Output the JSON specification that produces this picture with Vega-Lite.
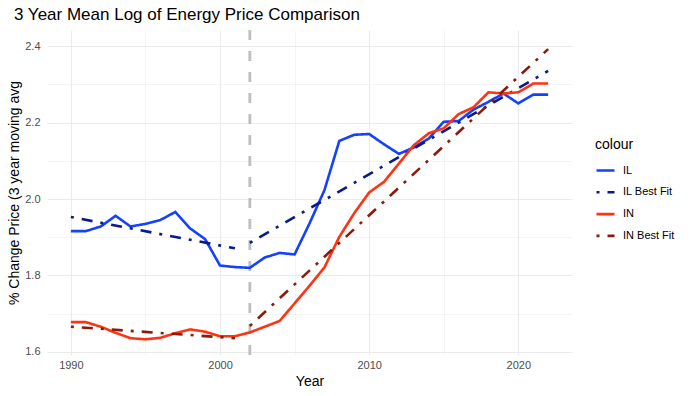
{
  "$schema": "https://vega.github.io/schema/vega-lite/v6.json",
  "autosize": {"type": "none"},
  "width": 525,
  "height": 325,
  "padding": {"left": 47, "top": 30, "right": 120, "bottom": 41},
  "background": "white",
  "config": {
    "font": "Liberation Sans",
    "view": {"stroke": null},
    "axis": {"domain": false, "ticks": false, "gridColor": "#EBEBEB", "labelColor": "#4D4D4D", "labelFontSize": 11, "titleFontSize": 14, "titleFontWeight": "normal", "titleColor": "#000000"}
  },
  "title": {"text": "3 Year Mean Log of Energy Price Comparison", "anchor": "start", "frame": "group", "dx": -33, "offset": 5, "fontSize": 17, "fontWeight": "normal", "color": "#000000"},
  "layer": [
    {
      "data": {"values": [{"year": 2002}]},
      "mark": {"type": "rule", "color": "#BEBEBE", "strokeWidth": 2.8, "strokeDash": [10, 11]},
      "encoding": {"x": {"field": "year", "type": "quantitative", "scale": {"domain": [1988.4, 2023.6], "nice": false, "zero": false}}}
    },
    {
      "data": {"values": [
        {"year": 1990, "value": 1.916, "series": "IL", "seg": "all"},
        {"year": 1991, "value": 1.916, "series": "IL", "seg": "all"},
        {"year": 1992, "value": 1.928, "series": "IL", "seg": "all"},
        {"year": 1993, "value": 1.956, "series": "IL", "seg": "all"},
        {"year": 1994, "value": 1.928, "series": "IL", "seg": "all"},
        {"year": 1995, "value": 1.935, "series": "IL", "seg": "all"},
        {"year": 1996, "value": 1.945, "series": "IL", "seg": "all"},
        {"year": 1997, "value": 1.966, "series": "IL", "seg": "all"},
        {"year": 1998, "value": 1.923, "series": "IL", "seg": "all"},
        {"year": 1999, "value": 1.895, "series": "IL", "seg": "all"},
        {"year": 2000, "value": 1.826, "series": "IL", "seg": "all"},
        {"year": 2001, "value": 1.822, "series": "IL", "seg": "all"},
        {"year": 2002, "value": 1.820, "series": "IL", "seg": "all"},
        {"year": 2003, "value": 1.847, "series": "IL", "seg": "all"},
        {"year": 2004, "value": 1.859, "series": "IL", "seg": "all"},
        {"year": 2005, "value": 1.855, "series": "IL", "seg": "all"},
        {"year": 2006, "value": 1.936, "series": "IL", "seg": "all"},
        {"year": 2007, "value": 2.023, "series": "IL", "seg": "all"},
        {"year": 2008, "value": 2.152, "series": "IL", "seg": "all"},
        {"year": 2009, "value": 2.168, "series": "IL", "seg": "all"},
        {"year": 2010, "value": 2.170, "series": "IL", "seg": "all"},
        {"year": 2011, "value": 2.143, "series": "IL", "seg": "all"},
        {"year": 2012, "value": 2.118, "series": "IL", "seg": "all"},
        {"year": 2013, "value": 2.135, "series": "IL", "seg": "all"},
        {"year": 2014, "value": 2.158, "series": "IL", "seg": "all"},
        {"year": 2015, "value": 2.202, "series": "IL", "seg": "all"},
        {"year": 2016, "value": 2.204, "series": "IL", "seg": "all"},
        {"year": 2017, "value": 2.234, "series": "IL", "seg": "all"},
        {"year": 2018, "value": 2.254, "series": "IL", "seg": "all"},
        {"year": 2019, "value": 2.276, "series": "IL", "seg": "all"},
        {"year": 2020, "value": 2.250, "series": "IL", "seg": "all"},
        {"year": 2021, "value": 2.273, "series": "IL", "seg": "all"},
        {"year": 2022, "value": 2.273, "series": "IL", "seg": "all"},
        {"year": 1990, "value": 1.953, "series": "IL Best Fit", "seg": "pre"},
        {"year": 2001, "value": 1.871, "series": "IL Best Fit", "seg": "pre"},
        {"year": 2002, "value": 1.885, "series": "IL Best Fit", "seg": "post"},
        {"year": 2022, "value": 2.335, "series": "IL Best Fit", "seg": "post"},
        {"year": 1990, "value": 1.678, "series": "IN", "seg": "all"},
        {"year": 1991, "value": 1.678, "series": "IN", "seg": "all"},
        {"year": 1992, "value": 1.666, "series": "IN", "seg": "all"},
        {"year": 1993, "value": 1.650, "series": "IN", "seg": "all"},
        {"year": 1994, "value": 1.636, "series": "IN", "seg": "all"},
        {"year": 1995, "value": 1.633, "series": "IN", "seg": "all"},
        {"year": 1996, "value": 1.637, "series": "IN", "seg": "all"},
        {"year": 1997, "value": 1.649, "series": "IN", "seg": "all"},
        {"year": 1998, "value": 1.659, "series": "IN", "seg": "all"},
        {"year": 1999, "value": 1.653, "series": "IN", "seg": "all"},
        {"year": 2000, "value": 1.641, "series": "IN", "seg": "all"},
        {"year": 2001, "value": 1.641, "series": "IN", "seg": "all"},
        {"year": 2002, "value": 1.651, "series": "IN", "seg": "all"},
        {"year": 2003, "value": 1.666, "series": "IN", "seg": "all"},
        {"year": 2004, "value": 1.681, "series": "IN", "seg": "all"},
        {"year": 2005, "value": 1.727, "series": "IN", "seg": "all"},
        {"year": 2006, "value": 1.773, "series": "IN", "seg": "all"},
        {"year": 2007, "value": 1.821, "series": "IN", "seg": "all"},
        {"year": 2008, "value": 1.901, "series": "IN", "seg": "all"},
        {"year": 2009, "value": 1.963, "series": "IN", "seg": "all"},
        {"year": 2010, "value": 2.017, "series": "IN", "seg": "all"},
        {"year": 2011, "value": 2.045, "series": "IN", "seg": "all"},
        {"year": 2012, "value": 2.093, "series": "IN", "seg": "all"},
        {"year": 2013, "value": 2.141, "series": "IN", "seg": "all"},
        {"year": 2014, "value": 2.172, "series": "IN", "seg": "all"},
        {"year": 2015, "value": 2.185, "series": "IN", "seg": "all"},
        {"year": 2016, "value": 2.222, "series": "IN", "seg": "all"},
        {"year": 2017, "value": 2.240, "series": "IN", "seg": "all"},
        {"year": 2018, "value": 2.279, "series": "IN", "seg": "all"},
        {"year": 2019, "value": 2.276, "series": "IN", "seg": "all"},
        {"year": 2020, "value": 2.279, "series": "IN", "seg": "all"},
        {"year": 2021, "value": 2.302, "series": "IN", "seg": "all"},
        {"year": 2022, "value": 2.302, "series": "IN", "seg": "all"},
        {"year": 1990, "value": 1.666, "series": "IN Best Fit", "seg": "pre"},
        {"year": 2001, "value": 1.636, "series": "IN Best Fit", "seg": "pre"},
        {"year": 2002, "value": 1.668, "series": "IN Best Fit", "seg": "post"},
        {"year": 2022, "value": 2.392, "series": "IN Best Fit", "seg": "post"}
      ]},
      "mark": {"type": "line", "strokeWidth": 2.6, "strokeCap": "butt"},
      "encoding": {
        "x": {"field": "year", "type": "quantitative", "title": "Year",
          "scale": {"domain": [1988.4, 2023.6], "nice": false, "zero": false},
          "axis": {"values": [1990, 1995, 2000, 2005, 2010, 2015, 2020], "labelExpr": "datum.value % 10 === 0 ? datum.label : ''", "format": "d", "labelPadding": 4, "titlePadding": 4,
            "gridWidth": {"condition": {"test": "datum.value % 10 !== 0", "value": 0.55}, "value": 1.1}}},
        "y": {"field": "value", "type": "quantitative", "title": "% Change Price (3 year moving avg",
          "scale": {"domain": [1.592, 2.442], "nice": false, "zero": false},
          "axis": {"values": [1.6, 1.7, 1.8, 1.9, 2.0, 2.1, 2.2, 2.3, 2.4], "labelExpr": "round(datum.value * 10) % 2 === 0 ? format(datum.value, '.1f') : ''", "labelPadding": 7, "titlePadding": 3,
            "gridWidth": {"condition": {"test": "round(datum.value * 10) % 2 === 1", "value": 0.55}, "value": 1.1}}},
        "color": {"field": "series", "type": "nominal", "title": "colour",
          "scale": {"domain": ["IL", "IL Best Fit", "IN", "IN Best Fit"], "range": ["#1440FF", "#0A1A8C", "#FF3311", "#8B1A0A"]},
          "legend": {"orient": "none", "legendX": 548, "legendY": 108, "padding": 0, "symbolType": "stroke", "symbolStrokeWidth": 2.6, "symbolSize": 324, "labelFontSize": 11, "labelColor": "#000000", "labelOffset": 7, "titleFontSize": 14, "titleFontWeight": "normal", "titleColor": "#000000", "titlePadding": 8, "rowPadding": 5.8}},
        "strokeDash": {"field": "series", "type": "nominal", "title": "colour",
          "scale": {"domain": ["IL", "IL Best Fit", "IN", "IN Best Fit"], "range": [[1, 0], [3, 8, 11, 8], [1, 0], [3, 8, 11, 8]]}},
        "detail": {"field": "seg", "type": "nominal"}
      }
    }
  ]
}
